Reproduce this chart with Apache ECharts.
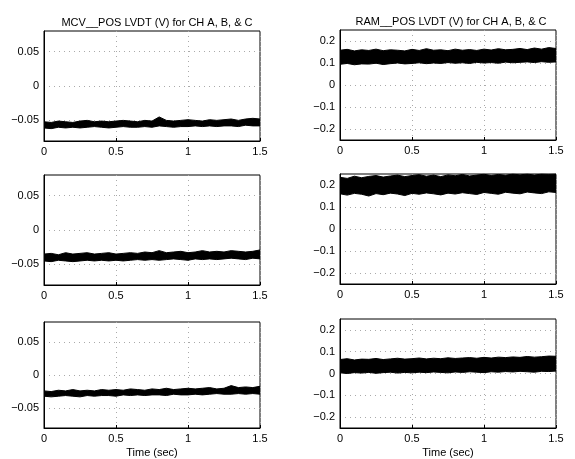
<!DOCTYPE html>
<html>
<head>
<meta charset="utf-8">
<script src="https://cdn.jsdelivr.net/npm/echarts@6/dist/echarts.min.js"></script>
<style>
  html, body { margin: 0; padding: 0; background: #fff; }
  #chart { width: 575px; height: 459px; }
</style>
</head>
<body>
<div id="chart"></div>
<script>
// sample times (sec)
var times = ['0','0.05','0.1','0.15','0.2','0.25','0.3','0.35','0.4','0.45','0.5','0.55','0.6','0.65','0.7','0.75','0.8','0.85','0.9','0.95','1','1.05','1.1','1.15','1.2','1.25','1.3','1.35','1.4','1.45','1.5'];
var mcvTicks = [-0.05, 0, 0.05];
var ramTicks = [-0.2, -0.1, 0, 0.1, 0.2];

// MCV POS LVDT, upper / lower edge of the noise band (V)
var mcvUpA = [-0.052,-0.053,-0.051,-0.052,-0.053,-0.051,-0.050,-0.052,-0.051,-0.052,-0.051,-0.050,-0.051,-0.052,-0.050,-0.051,-0.045,-0.050,-0.051,-0.050,-0.049,-0.050,-0.051,-0.049,-0.050,-0.049,-0.048,-0.050,-0.048,-0.047,-0.048];
var mcvLoA = [-0.061,-0.062,-0.060,-0.061,-0.060,-0.061,-0.060,-0.059,-0.060,-0.061,-0.060,-0.059,-0.060,-0.060,-0.059,-0.060,-0.058,-0.059,-0.060,-0.059,-0.059,-0.058,-0.059,-0.058,-0.059,-0.058,-0.058,-0.059,-0.057,-0.058,-0.058];
var mcvUpB = [-0.035,-0.034,-0.036,-0.033,-0.035,-0.034,-0.033,-0.035,-0.034,-0.033,-0.035,-0.034,-0.033,-0.034,-0.032,-0.033,-0.030,-0.033,-0.032,-0.031,-0.033,-0.032,-0.030,-0.032,-0.031,-0.032,-0.030,-0.031,-0.032,-0.031,-0.029];
var mcvLoB = [-0.045,-0.046,-0.044,-0.045,-0.046,-0.045,-0.044,-0.045,-0.044,-0.045,-0.044,-0.045,-0.044,-0.043,-0.044,-0.043,-0.044,-0.043,-0.042,-0.043,-0.044,-0.042,-0.043,-0.042,-0.043,-0.042,-0.041,-0.042,-0.043,-0.041,-0.042];
var mcvUpC = [-0.024,-0.025,-0.023,-0.024,-0.022,-0.024,-0.023,-0.024,-0.022,-0.023,-0.022,-0.023,-0.021,-0.022,-0.023,-0.021,-0.022,-0.020,-0.022,-0.021,-0.020,-0.021,-0.020,-0.019,-0.021,-0.020,-0.016,-0.019,-0.018,-0.019,-0.017];
var mcvLoC = [-0.032,-0.033,-0.032,-0.031,-0.032,-0.033,-0.031,-0.032,-0.031,-0.031,-0.032,-0.030,-0.031,-0.030,-0.031,-0.030,-0.030,-0.031,-0.029,-0.030,-0.030,-0.029,-0.030,-0.029,-0.028,-0.029,-0.029,-0.028,-0.029,-0.028,-0.029];

// RAM POS LVDT
var ramUpA = [0.158,0.162,0.155,0.160,0.157,0.163,0.156,0.160,0.158,0.155,0.162,0.157,0.165,0.158,0.160,0.156,0.163,0.158,0.161,0.157,0.163,0.159,0.165,0.160,0.162,0.166,0.161,0.168,0.163,0.170,0.166];
var ramLoA = [0.094,0.098,0.092,0.096,0.095,0.099,0.093,0.097,0.100,0.096,0.098,0.101,0.097,0.100,0.098,0.102,0.099,0.101,0.098,0.103,0.100,0.102,0.099,0.104,0.101,0.103,0.105,0.102,0.106,0.103,0.105];
var ramUpB = [0.235,0.230,0.240,0.233,0.239,0.243,0.236,0.241,0.245,0.238,0.243,0.247,0.240,0.245,0.238,0.246,0.242,0.248,0.241,0.245,0.249,0.243,0.248,0.244,0.250,0.246,0.250,0.245,0.250,0.248,0.250];
var ramLoB = [0.160,0.154,0.162,0.158,0.150,0.161,0.156,0.163,0.159,0.152,0.162,0.158,0.164,0.160,0.155,0.163,0.159,0.165,0.161,0.157,0.166,0.162,0.158,0.167,0.163,0.160,0.168,0.164,0.161,0.169,0.166];
var ramUpC = [0.064,0.068,0.062,0.066,0.065,0.069,0.064,0.067,0.070,0.066,0.068,0.071,0.067,0.070,0.068,0.072,0.069,0.071,0.073,0.070,0.074,0.071,0.075,0.073,0.076,0.074,0.078,0.075,0.077,0.080,0.079];
var ramLoC = [0.003,0.000,0.004,0.002,0.005,0.001,0.004,0.006,0.002,0.005,0.003,0.006,0.004,0.007,0.005,0.003,0.007,0.005,0.008,0.006,0.004,0.008,0.006,0.009,0.007,0.010,0.008,0.006,0.010,0.009,0.011];

var FONT = 'Liberation Sans';
var panels = [
    {left: 44,  top: 31,  up: mcvUpA, lo: mcvLoA, lim: 0.08, ticks: mcvTicks},
    {left: 340, top: 30,  up: ramUpA, lo: ramLoA, lim: 0.25, ticks: ramTicks},
    {left: 44,  top: 175, up: mcvUpB, lo: mcvLoB, lim: 0.08, ticks: mcvTicks},
    {left: 340, top: 174, up: ramUpB, lo: ramLoB, lim: 0.25, ticks: ramTicks},
    {left: 44,  top: 322, up: mcvUpC, lo: mcvLoC, lim: 0.08, ticks: mcvTicks},
    {left: 340, top: 319, up: ramUpC, lo: ramLoC, lim: 0.25, ticks: ramTicks}
];

var grids = [], xAxes = [], yAxes = [], series = [];
var dotted = {color: '#aaa', type: [1, 4], width: 1};

panels.forEach(function (p, i) {
    grids.push({left: p.left, top: p.top, width: 216, height: 110,
        show: true, borderColor: '#000', borderWidth: 1, backgroundColor: '#fff'});
    xAxes.push({type: 'category', gridIndex: i, data: times, boundaryGap: false,
        axisLine: {show: true, onZero: false, lineStyle: {color: '#000'}},
        axisTick: {inside: true, length: 3, interval: 9, lineStyle: {color: '#000'}},
        axisLabel: {color: '#000', fontFamily: FONT, fontSize: 11, margin: 5, interval: 9},
        splitLine: {show: true, interval: 9, lineStyle: dotted},
        name: i >= 4 ? 'Time (sec)' : '', nameLocation: 'middle', nameGap: 19,
        nameTextStyle: {color: '#000', fontFamily: FONT, fontSize: 11}});
    yAxes.push({type: 'value', gridIndex: i, min: -p.lim, max: p.lim,
        axisLine: {show: true, lineStyle: {color: '#000'}},
        axisTick: {inside: true, length: 3, lineStyle: {color: '#000'}, customValues: p.ticks},
        axisLabel: {color: '#000', fontFamily: FONT, fontSize: 11, margin: 5,
            customValues: p.ticks,
            formatter: function (v) { return String(v).replace('-', '\u2212'); }},
        splitLine: {show: true, lineStyle: dotted}});
    var diff = p.up.map(function (u, k) { return +(u - p.lo[k]).toFixed(4); });
    series.push({type: 'line', xAxisIndex: i, yAxisIndex: i, stack: 'b' + i, stackStrategy: 'all',
        data: p.lo, symbol: 'none', silent: true,
        lineStyle: {color: '#000', width: 1}});
    series.push({type: 'line', xAxisIndex: i, yAxisIndex: i, stack: 'b' + i, stackStrategy: 'all',
        data: diff, symbol: 'none', silent: true,
        lineStyle: {color: '#000', width: 1},
        areaStyle: {color: '#000', opacity: 1}});
});

var chart = echarts.init(document.getElementById('chart'), null, {renderer: 'canvas'});
chart.setOption({
    animation: false,
    backgroundColor: '#fff',
    title: [
        {text: 'MCV__POS LVDT (V) for CH A, B, & C', left: 152, top: 12, textAlign: 'center',
            textStyle: {fontFamily: FONT, fontSize: 11, fontWeight: 'normal', color: '#000'}},
        {text: 'RAM__POS LVDT (V) for CH A, B, & C', left: 446, top: 11, textAlign: 'center',
            textStyle: {fontFamily: FONT, fontSize: 11, fontWeight: 'normal', color: '#000'}}
    ],
    grid: grids,
    xAxis: xAxes,
    yAxis: yAxes,
    series: series
});
</script>
</body>
</html>
